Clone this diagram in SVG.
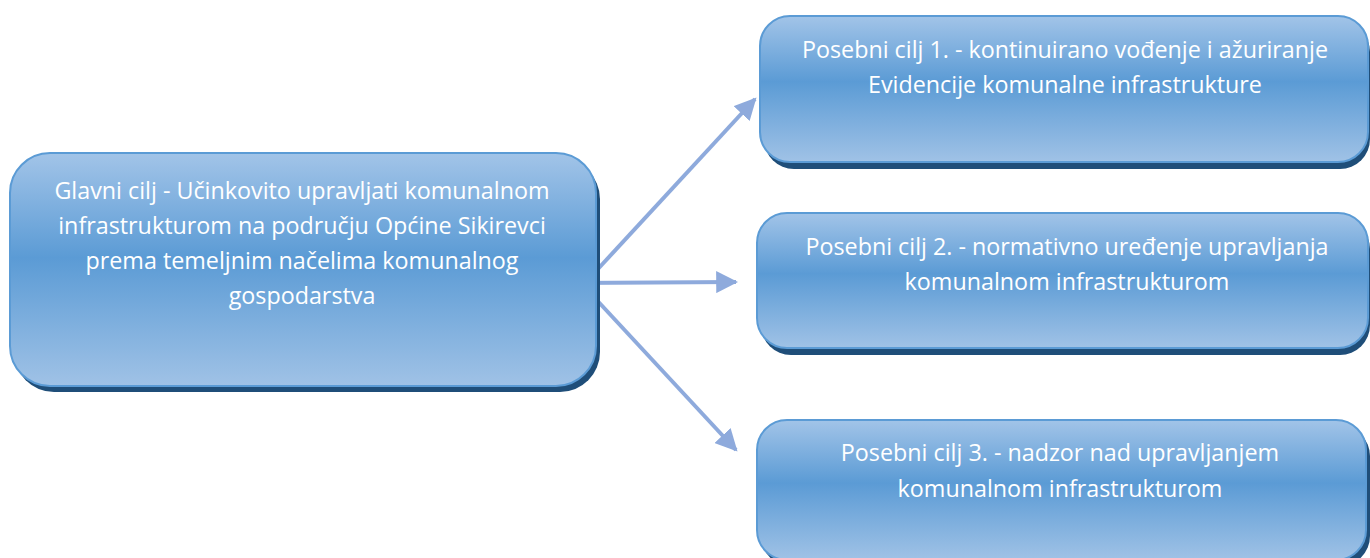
<svg xmlns="http://www.w3.org/2000/svg" width="1370" height="558" viewBox="0 0 1370 558">
<defs>
<linearGradient id="g" x1="0" y1="0" x2="0" y2="1">
<stop offset="0" stop-color="#a2c4e8"/>
<stop offset="0.45" stop-color="#5b9bd5"/>
<stop offset="1" stop-color="#a0c2e6"/>
</linearGradient>
<marker id="ah" viewBox="0 0 10 10" refX="9" refY="5" markerWidth="5.5" markerHeight="5.5" markerUnits="strokeWidth" orient="auto">
<path d="M0,0 L10,5 L0,10 z" fill="#8eaadc"/>
</marker>
<style>
.sh{fill:#1f4e79;}
.bx{fill:url(#g);stroke:#5b9bd5;stroke-width:2;}
.t{font-family:"Open Sans","Liberation Sans",Arial,sans-serif;font-size:23.3px;fill:#ffffff;text-anchor:middle;}
.c{stroke:#8eaadc;stroke-width:4;fill:none;marker-end:url(#ah);}
</style>
</defs>
<g id="connectors">
<line class="c" x1="597" y1="270" x2="755" y2="99"/>
<line class="c" x1="572" y1="283" x2="736" y2="282"/>
<line class="c" x1="580" y1="282" x2="736" y2="450"/>
</g>
<g id="main">
<rect class="sh" x="14" y="159" width="586" height="233" rx="40"/>
<rect class="bx" x="10" y="153" width="586" height="233" rx="40"/>
<text class="t" x="302" y="199">Glavni cilj - Učinkovito upravljati komunalnom</text>
<text class="t" x="302" y="234">infrastrukturom na području Općine Sikirevci</text>
<text class="t" x="302" y="269">prema temeljnim načelima komunalnog</text>
<text class="t" x="302" y="304">gospodarstva</text>
</g>
<g id="cilj1">
<rect class="sh" x="764" y="22" width="606" height="147" rx="30"/>
<rect class="bx" x="760" y="16" width="608" height="146" rx="30"/>
<text class="t" x="1065" y="58">Posebni cilj 1. - kontinuirano vođenje i ažuriranje</text>
<text class="t" x="1065" y="93">Evidencije komunalne infrastrukture</text>
</g>
<g id="cilj2">
<rect class="sh" x="761" y="219" width="609" height="136" rx="30"/>
<rect class="bx" x="757" y="213" width="611" height="135" rx="30"/>
<text class="t" x="1067" y="255">Posebni cilj 2. - normativno uređenje upravljanja</text>
<text class="t" x="1067" y="290">komunalnom infrastrukturom</text>
</g>
<g id="cilj3">
<rect class="sh" x="761" y="426" width="609" height="140" rx="30"/>
<rect class="bx" x="757" y="420" width="609" height="140" rx="30"/>
<text class="t" x="1060" y="461">Posebni cilj 3. - nadzor nad upravljanjem</text>
<text class="t" x="1060" y="497">komunalnom infrastrukturom</text>
</g>
</svg>
